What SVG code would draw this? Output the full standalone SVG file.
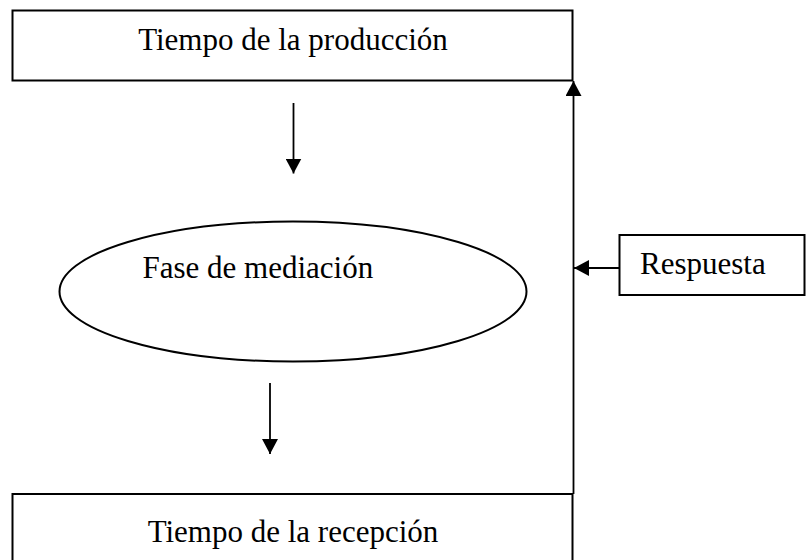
<svg xmlns="http://www.w3.org/2000/svg" width="806" height="560" viewBox="0 0 806 560">
<defs>
<marker id="ah" markerUnits="userSpaceOnUse" markerWidth="16" markerHeight="16" refX="15" refY="8" orient="auto" viewBox="0 0 16 16">
<path d="M0,0 L15,8 L0,16 z" fill="#000"/>
</marker>
<style>
.box{fill:#fff;stroke:#000;stroke-width:2}
.lbl{font-family:"Liberation Serif","Times New Roman",serif;font-size:31px;fill:#000}
.con{stroke:#000;stroke-width:1.8;fill:none;marker-end:url(#ah)}
</style>
</defs>
<rect width="806" height="560" fill="#fff"/>
<g id="connectors">
<line class="con" x1="293.5" y1="103" x2="293.5" y2="173.5"/>
<line class="con" x1="270" y1="383" x2="270" y2="454"/>
<line class="con" x1="573.5" y1="494" x2="573.5" y2="81"/>
<line class="con" x1="619" y1="268" x2="574" y2="268"/>
</g>
<g id="produccion">
<rect class="box" x="12.5" y="10.5" width="560" height="70"/>
<text class="lbl" x="293" y="50" text-anchor="middle">Tiempo de la producción</text>
</g>
<g id="mediacion">
<ellipse cx="293" cy="291.5" rx="233.5" ry="70" fill="none" stroke="#000" stroke-width="2"/>
<text class="lbl" x="142.5" y="278">Fase de mediación</text>
</g>
<g id="respuesta">
<rect class="box" x="619.5" y="235" width="185" height="60"/>
<text class="lbl" x="640" y="274">Respuesta</text>
</g>
<g id="recepcion">
<rect class="box" x="12.5" y="494" width="560" height="80"/>
<text class="lbl" x="293" y="541.5" text-anchor="middle">Tiempo de la recepción</text>
</g>
</svg>
